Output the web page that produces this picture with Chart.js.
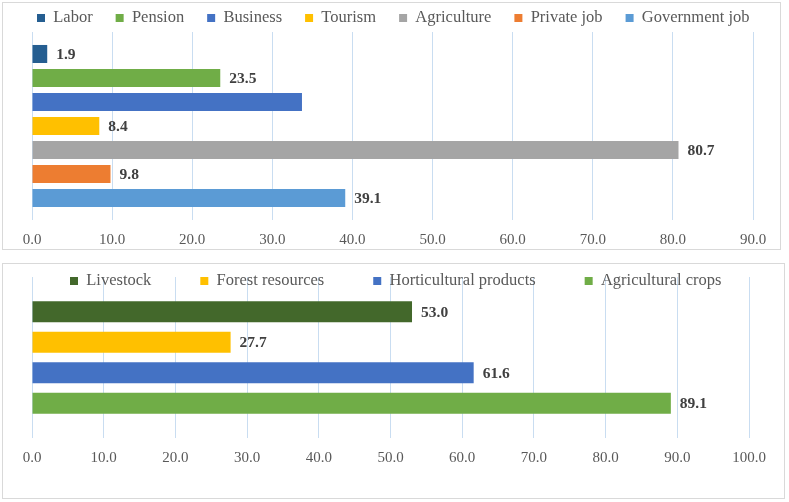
<!DOCTYPE html>
<html><head><meta charset="utf-8">
<script src="https://cdn.jsdelivr.net/npm/chart.js@4/dist/chart.umd.min.js"></script>
<style>
html,body{margin:0;padding:0;background:#fff;}
.panel{position:absolute;border:1px solid #d9d9d9;background:#fff;}
#p1{left:2px;top:2px;width:777px;height:246px;}
#p2{left:2px;top:263px;width:781px;height:234px;}
canvas{display:block;}
</style></head><body>
<div class="panel" id="p1"><canvas id="c1" width="777" height="246"></canvas></div>
<div class="panel" id="p2"><canvas id="c2" width="781" height="234"></canvas></div>
<script>
// ---- Data ----
const topSeries = ["Labor","Pension","Business","Tourism","Agriculture","Private job","Government job"];
const topValues = [1.9, 23.5, 33.7, 8.4, 80.7, 9.8, 39.1];
const topColors = ["#255E91","#70AD47","#4472C4","#FFC000","#A5A5A5","#ED7D31","#5B9BD5"];
const topShowLabel = [true, true, false, true, true, true, true];
const topTicks = [0,10,20,30,40,50,60,70,80,90];

const botSeries = ["Livestock","Forest resources","Horticultural products","Agricultural crops"];
const botValues = [53.0, 27.7, 61.6, 89.1];
const botColors = ["#43682B","#FFC000","#4472C4","#70AD47"];
const botShowLabel = [true, true, true, true];
const botTicks = [0,10,20,30,40,50,60,70,80,90,100];

const FONT = "'Liberation Serif', 'Times New Roman', serif";

function makeLegendPlugin(height, textMid, startX){
  return {
    id:'legendFix',
    beforeLayout(chart){
      const lg = chart.legend;
      if(lg && !lg._patched){
        const orig = lg.fit.bind(lg);
        lg.fit = function(){ const mw = this.maxWidth; this.maxWidth = 5000; orig(); this.maxWidth = mw; this.width = mw; this.height = height; };
        lg._patched = true;
      }
    },
    beforeDraw(chart){
      const lg = chart.legend;
      const pad = lg.options.labels.padding;
      const fs = lg.options.labels.font.size;
      lg.top = textMid - fs/2 - pad;
      lg.bottom = lg.top + 200;
      lg.left = startX - pad;
      lg.right = lg.left + 5000;
    }
  };
}

function makeLabelPlugin(show){
  return {
    id:'valueLabels',
    afterDatasetsDraw(chart){
      const ctx = chart.ctx;
      ctx.save();
      ctx.font = "bold 15.5px " + FONT;
      ctx.fillStyle = "#404040";
      ctx.textAlign = "left";
      ctx.textBaseline = "middle";
      chart.data.datasets.forEach((ds,i)=>{
        if(!show[i]) return;
        const el = chart.getDatasetMeta(i).data[0];
        ctx.fillText(ds.data[0].toFixed(1), el.x + 9, el.y + 1);
      });
      ctx.restore();
    }
  };
}

function buildChart(id, series, values, colors, ticks, opts){
  const datasets = series.map((s,i)=>({
    label:s, data:[values[i]], backgroundColor:colors[i], borderWidth:0,
    categoryPercentage:opts.catPct, barPercentage:opts.barPct
  }));
  return new Chart(document.getElementById(id), {
    type:'bar',
    data:{labels:[''], datasets},
    options:{
      indexAxis:'y', responsive:false, animation:false,
      layout:{padding:opts.padding},
      plugins:{
        tooltip:{enabled:false},
        legend:{
          position:'top', align:'start',
          labels:{
            boxWidth:8, boxHeight:8, padding:opts.legendPad, color:'#595959',
            font:{family:FONT, size:16.5}
          }
        }
      },
      scales:{
        x:{
          min:ticks[0], max:ticks[ticks.length-1],
          afterBuildTicks(scale){ scale.ticks = ticks.map(v=>({value:v})); },
          afterFit(scale){ scale.height = opts.axisH; },
          grid:{color:'#C9DDF1', lineWidth:1, drawTicks:false},
          border:{display:false},
          ticks:{color:'#595959', padding:11, font:{family:FONT, size:15},
                 callback:(v)=>Number(v).toFixed(1)}
        },
        y:{display:false, grid:{display:false}}
      }
    },
    plugins:[makeLegendPlugin(opts.legendHeight, opts.legendMid, opts.legendX), makeLabelPlugin(opts.show)]
  });
}

buildChart('c1', topSeries, topValues, topColors, topTicks, {
  catPct:0.894, barPct:0.75, padding:{left:29,right:27,top:0,bottom:0},
  legendPad:23, legendHeight:29, legendMid:15, legendX:34, axisH:29, show:topShowLabel
});
buildChart('c2', botSeries, botValues, botColors, botTicks, {
  catPct:0.758, barPct:0.69, padding:{left:29,right:35,top:0,bottom:31},
  legendPad:49, legendHeight:13, legendMid:17, legendX:67, axisH:29, show:botShowLabel
});
</script>
</body></html>
